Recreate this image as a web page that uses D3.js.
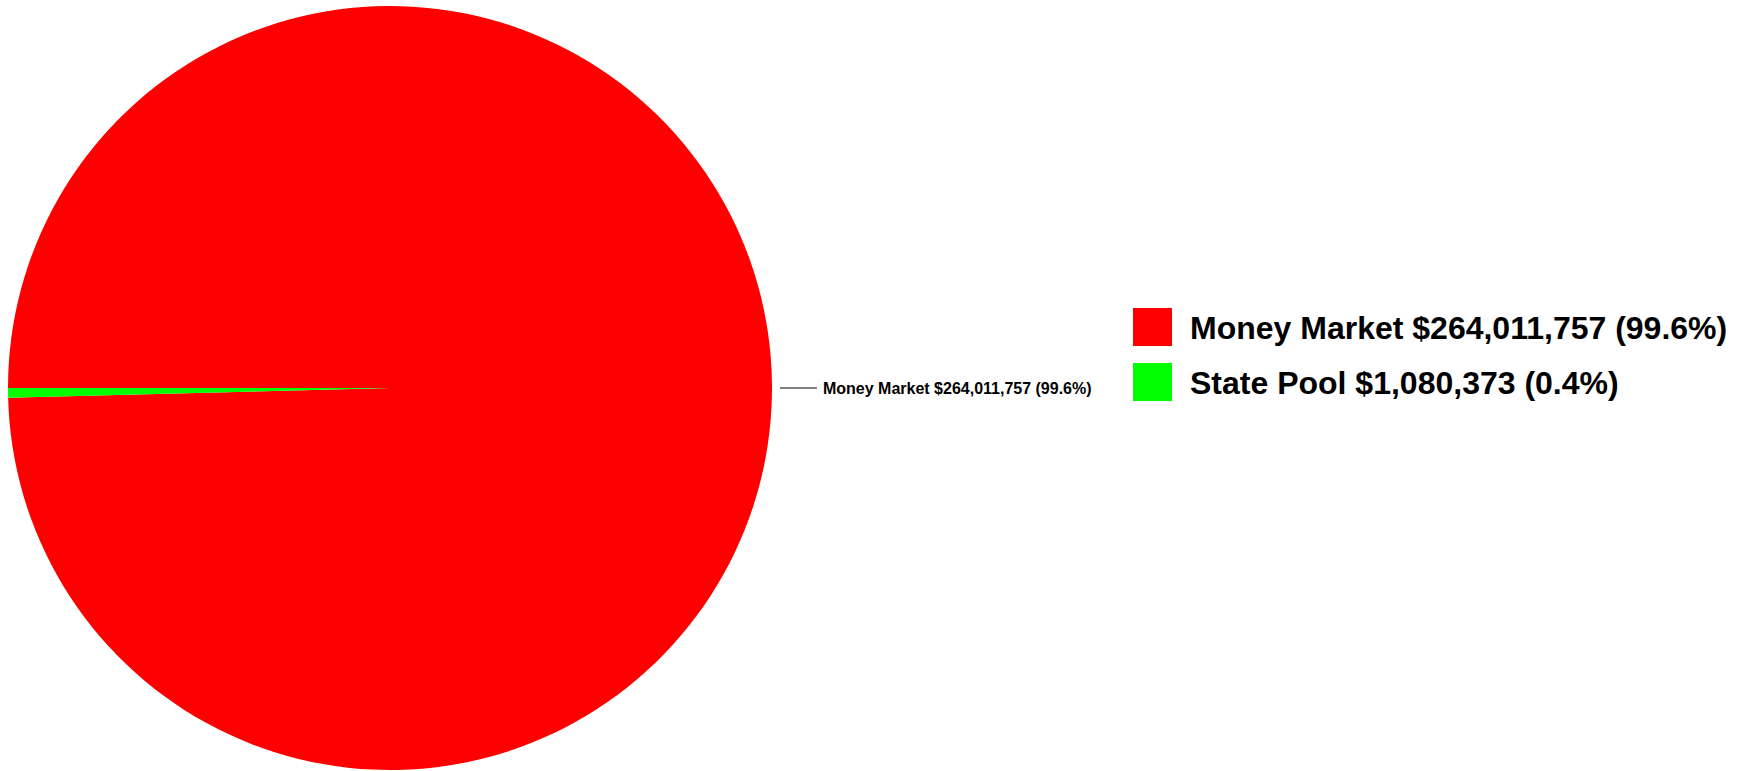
<!DOCTYPE html>
<html><head><meta charset="utf-8">
<script src="https://cdn.jsdelivr.net/npm/d3@7"></script>
<style>body{margin:0;background:#fff}text{font-family:"Liberation Sans",Arial,sans-serif;font-weight:bold}</style>
</head><body>
<svg id="c" width="1739" height="771"></svg>
<script>
const categories = ["Money Market", "State Pool"];
const values = [264011757, 1080373];
const colors = ["#ff0000", "#00ff00"];

const total = d3.sum(values);
const fmt = d3.format(",");
const pct = v => (v / total * 100).toFixed(1) + "%";
const labels = categories.map((c, i) => `${c} $${fmt(values[i])} (${pct(values[i])})`);

const svg = d3.select("#c");
const cx = 390, cy = 388, r = 382;
const pie = d3.pie().sort(null).startAngle(-Math.PI / 2).endAngle(1.5 * Math.PI);
const arcs = pie(values);
const arc = d3.arc().innerRadius(0).outerRadius(r);
const g = svg.append("g").attr("transform", `translate(${cx},${cy})`);
g.selectAll("path").data(arcs).join("path").attr("d", arc).attr("fill", (d, i) => colors[i]);

const a0 = arcs[0];
const mid = (a0.startAngle + a0.endAngle) / 2;
const px = Math.sin(mid);
const ly = 0;
g.append("line").attr("x1", px * (r + 8)).attr("y1", ly)
  .attr("x2", px * (r + 45)).attr("y2", ly).attr("stroke", "#000").attr("stroke-width", 1);
g.append("text").attr("x", px * (r + 51)).attr("y", ly).attr("dy", "0.35em")
  .attr("font-size", 16).text(labels[0]);

const lg = svg.append("g").attr("transform", "translate(1133,308)");
const items = lg.selectAll("g").data(labels).join("g").attr("transform", (d, i) => `translate(0,${i * 55})`);
items.append("rect").attr("width", 39).attr("height", 38).attr("fill", (d, i) => colors[i]);
items.append("text").attr("x", 57).attr("y", 19).attr("dy", "0.36em").attr("font-size", 32).text(d => d);
</script>
</body></html>
